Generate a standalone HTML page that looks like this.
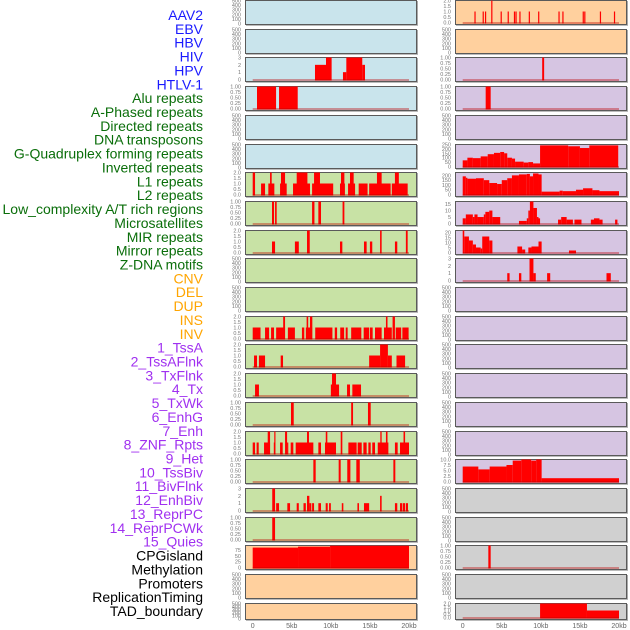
<!DOCTYPE html>
<html><head><meta charset="utf-8">
<style>
html,body{margin:0;padding:0;background:#fff;width:630px;height:630px;overflow:hidden}
svg text{font-family:"Liberation Sans",sans-serif}
</style></head>
<body>
<svg id="chart" width="630" height="630" viewBox="0 0 630 630" xmlns="http://www.w3.org/2000/svg"></svg>
<script>
// ---- data ----
const labels = ["AAV2","EBV","HBV","HIV","HPV","HTLV-1","Alu repeats","A-Phased repeats","Directed repeats","DNA transposons","G-Quadruplex forming repeats","Inverted repeats","L1 repeats","L2 repeats","Low_complexity A/T rich regions","Microsatellites","MIR repeats","Mirror repeats","Z-DNA motifs","CNV","DEL","DUP","INS","INV","1_TssA","2_TssAFlnk","3_TxFlnk","4_Tx","5_TxWk","6_EnhG","7_Enh","8_ZNF_Rpts","9_Het","10_TssBiv","11_BivFlnk","12_EnhBiv","13_ReprPC","14_ReprPCWk","15_Quies","CPGisland","Methylation","Promoters","ReplicationTiming","TAD_boundary"];
const labelColors = ["#1a1aff","#1a1aff","#1a1aff","#1a1aff","#1a1aff","#1a1aff","#0a6e0a","#0a6e0a","#0a6e0a","#0a6e0a","#0a6e0a","#0a6e0a","#0a6e0a","#0a6e0a","#0a6e0a","#0a6e0a","#0a6e0a","#0a6e0a","#0a6e0a","#ffa500","#ffa500","#ffa500","#ffa500","#ffa500","#a030f0","#a030f0","#a030f0","#a030f0","#a030f0","#a030f0","#a030f0","#a030f0","#a030f0","#a030f0","#a030f0","#a030f0","#a030f0","#a030f0","#a030f0","#000","#000","#000","#000","#000"];
const leftBg = ["blue","blue","blue","blue","blue","blue","green","green","green","green","green","green","green","green","green","green","green","green","green","orange","orange","orange"];
const rightBg = ["orange","orange","purple","purple","purple","purple","purple","purple","purple","purple","purple","purple","purple","purple","purple","purple","purple","gray","gray","gray","gray","gray"];
const xTickValues = [0,5000,10000,15000,20000];
const xTickLabels = ["0","5kb","10kb","15kb","20kb"];
const emptyTicks = [0,100,200,300,400,500];
const emptyTickLabels = ["0","100","200","300","400","500"];

// bars: [startKb, endKb, value]
const ebvBars = [[1.5,1.65,1],[2.55,2.7,1],[2.85,3.0,1],[3.65,3.8,2],[4.85,5.0,1],[5.75,5.9,1],[6.55,6.7,1],[6.75,6.9,1],[7.25,7.4,1],[8.45,8.6,1],[9.65,9.8,1],[12.25,12.4,1],[12.75,12.9,1],[15.35,15.5,1],[15.55,15.7,1],[17.55,17.7,1],[19.35,19.5,1]];
const hpvBars = [[7.97,9.38,2],[9.38,10.1,3],[11.55,11.98,1],[11.98,14.02,3],[14.02,14.37,2]];
const htlvBars = [[10.17,10.42,1]];
const aluBars = [[0.55,2.99,1],[3.37,5.76,1]];
const aphasedBars = [[2.94,3.58,1]];
const gquadBars = [[0,0.6,70],[0.6,1.3,100],[1.3,2.3,95],[2.3,3.2,115],[3.2,4,140],[4,4.8,155],[4.8,5.3,165],[5.3,5.7,150],[5.7,6.3,100],[6.3,6.7,90],[6.7,7.8,55],[7.8,8.4,45],[8.4,9,50],[9,9.9,35],[9.9,13.5,240],[13.5,15,230],[15,16.2,210],[16.2,19.9,240]];
const invertedBars = [[0,0.3,2],[1.07,1.58,1],[2.0,2.77,1],[2.22,2.43,2],[3.5,4.35,1],[3.62,4.14,2],[5.16,7.33,1],[5.63,7.0,2],[7.6,10.3,1],[7.85,8.61,2],[11.17,11.8,1],[11.3,11.73,2],[12.2,13.1,1],[12.45,12.92,2],[13.56,14.7,1],[14.9,17.65,1],[15.9,16.5,2],[17.8,19.83,1],[18.2,18.7,2]];
const l1Bars = [[0,0.4,190],[0.4,0.6,175],[0.6,1.7,165],[1.7,2.7,170],[2.7,3.4,150],[3.4,4.4,120],[4.4,5,110],[5,5.7,150],[5.7,6.3,170],[6.3,7.2,200],[7.2,8.2,210],[8.2,8.6,215],[8.6,9,190],[9,9.7,220],[9.7,10.1,210],[10.1,12.4,30],[12.4,12.8,40],[12.8,14.5,35],[14.5,15.4,50],[15.4,16.6,65],[16.6,17.5,45],[17.5,20,35]];
const lowcxBars = [[2.47,2.73,1],[2.86,3.07,1],[7.6,7.9,1],[8.4,8.74,1],[11.5,11.73,1]];
const l2Bars = [[0,0.4,4],[0.4,1.3,7],[1.3,1.5,5],[1.5,1.9,7],[1.9,2.7,5],[2.7,2.9,7],[2.9,3.4,9],[3.4,3.8,10],[3.8,4.8,5],[7.2,8.2,2],[8.2,8.4,4],[8.4,8.6,10],[8.6,9.05,17],[9.05,9.5,12],[9.5,9.7,5],[9.7,9.9,4],[12.2,12.6,3],[12.6,13.3,5],[13.3,14.1,3],[14.3,15.2,3],[16.4,16.8,3],[16.8,17.5,4],[17.5,17.9,3],[19.5,19.8,3]];
const mirBars = [[2.47,2.86,1],[5.4,5.9,1],[6.95,7.3,2],[11.17,11.47,1],[14.24,14.58,1],[15.0,15.3,1],[16.3,16.5,2],[18.2,18.5,1],[19.6,19.83,2]];
const microBars = [[0,0.2,22],[0.2,0.8,16],[0.8,1.3,12],[1.3,1.7,8],[1.7,2.3,5],[2.3,2.5,4],[2.5,3.4,16],[3.4,3.8,12],[7.0,7.6,6],[7.6,8.0,3],[8.4,8.8,5],[8.8,9.7,6],[9.7,10.1,11],[13.6,14.5,2]];
const zdnaBars = [[5.7,6.0,1],[7.2,7.5,1],[8.55,9.05,3],[9.05,9.35,1],[10.8,11.2,1],[18.4,18.95,1]];
const insBars = [[0,1.0,1],[1.58,2.1,1],[2.35,2.73,1],[3.0,4.14,1],[3.9,4.14,2],[4.5,5.4,1],[6.3,6.6,1],[6.8,7.6,1],[6.9,7.1,2],[7.33,7.63,2],[8.0,10.2,1],[10.5,10.8,1],[11.2,11.7,1],[11.9,12.15,1],[12.6,13.9,1],[14.2,14.9,1],[15.0,15.35,1],[15.65,16.5,1],[16.8,17.8,1],[17.05,17.25,2],[17.9,18.2,2],[18.3,19.0,1],[19.15,19.95,1]];
const tssaBars = [[0.17,0.55,1],[0.8,1.58,1],[3.58,3.88,1],[14.9,16.3,1],[16.3,17.3,2],[17.3,17.8,1],[18.4,19.5,1]];
const txflnkBars = [[0.3,0.8,1],[10.0,11.05,1],[10.15,10.66,2],[12.07,12.45,1],[12.75,13.86,1]];
const txwkBars = [[4.9,5.25,1],[12.6,12.84,1],[14.75,15.1,1]];
const enhBars = [[0,0.3,1],[0.5,0.77,1],[1.45,2.22,1],[1.92,2.22,2],[2.7,2.86,1],[2.76,2.86,2],[3.5,3.84,1],[4.14,4.4,2],[4.4,4.55,1],[4.86,5.2,1],[5.5,7.76,1],[6.95,7.2,2],[8.4,8.74,1],[9.25,10.66,1],[9.35,9.55,2],[11.26,11.47,2],[12.24,13.3,1],[13.43,13.95,1],[14.16,14.58,1],[14.8,15.1,1],[15.3,15.65,1],[16.0,17.36,1],[16.33,16.5,2],[17.05,17.25,2],[18.2,18.55,1],[18.85,20.0,1],[19.3,19.5,2]];
const hetBars = [[7.76,8.06,1],[11.0,11.26,1],[12.1,12.5,1],[13.26,13.7,1],[18.0,18.25,1]];
const tssbivBars = [[0,2.0,6.8],[2.0,3.45,5.5],[3.45,5.6,6.8],[5.6,6.4,7.5],[6.4,7.5,9.5],[7.5,8.76,10],[8.76,9.4,9.5],[9.4,10.1,10],[10.1,20,1.5]];
const bivflnkBars = [[2.5,2.86,3],[3.0,3.37,1],[4.43,4.78,1],[5.63,5.9,1],[6.5,6.8,1],[6.95,7.25,2],[7.25,7.5,1],[7.6,7.85,1],[8.4,8.74,1],[9.34,9.6,1],[9.77,10.0,1],[11.4,11.6,1],[13.4,13.6,1],[14.24,14.9,1],[16.3,16.5,2],[18.2,18.5,1],[18.85,19.15,1],[19.23,19.5,1],[19.6,19.87,1]];
const reprpcBars = [[2.5,2.86,1]];
const cpgBars = [[0,5.8,86],[5.8,9.9,90],[9.9,20,94]];
const methylBars = [[3.28,3.58,1]];
const tadBars = [[9.9,15.9,2],[15.9,20,1]];

const t2 = [0,0.5,1,1.5,2], t2L = ["0.0","0.5","1.0","1.5","2.0"];
const t1 = [0,0.25,0.5,0.75,1], t1L = ["0.00","0.25","0.50","0.75","1.00"];
const t3 = [0,1,2,3], t3L = ["0","1","2","3"];
// panel specs: [row, side(0 left,1 right), bars, yMax, ticks, tickLabels]
const panels = [
 [0,1,ebvBars,2,t2,t2L],
 [2,0,hpvBars,3,t3,t3L],
 [2,1,htlvBars,1,t1,t1L],
 [3,0,aluBars,1,t1,t1L],
 [3,1,aphasedBars,1,t1,t1L],
 [5,1,gquadBars,250,[0,50,100,150,200,250],["0","50","100","150","200","250"]],
 [6,0,invertedBars,2,t2,t2L],
 [6,1,l1Bars,230,[0,50,100,150,200],["0","50","100","150","200"]],
 [7,0,lowcxBars,1,t1,t1L],
 [7,1,l2Bars,17,[0,5,10,15],["0","5","10","15"]],
 [8,0,mirBars,2,t2,t2L],
 [8,1,microBars,22,[0,5,10,15,20],["0","5","10","15","20"]],
 [9,1,zdnaBars,3,t3,t3L],
 [11,0,insBars,2,t2,t2L],
 [12,0,tssaBars,2,t2,t2L],
 [13,0,txflnkBars,2,t2,t2L],
 [14,0,txwkBars,1,t1,t1L],
 [15,0,enhBars,2,t2,t2L],
 [16,0,hetBars,1,t1,t1L],
 [16,1,tssbivBars,10,[0,2.5,5,7.5,10],["0.0","2.5","5.0","7.5","10.0"]],
 [17,0,bivflnkBars,3,t3,t3L],
 [18,0,reprpcBars,1,t1,t1L],
 [19,0,cpgBars,95,[0,25,50,75],["0","25","50","75"]],
 [19,1,methylBars,1,t1,t1L],
 [21,1,tadBars,2,t2,t2L]
];

// ---- drawing ----
const NS = "http://www.w3.org/2000/svg";
const svg = document.getElementById('chart');
const bgColors = {blue:"#c9e4ec",green:"#c8e2a5",orange:"#ffd09e",purple:"#d6c5e2",gray:"#d0d0d0"};
const colX = [245, 455];
const panelW = 171;
function rowTop(r){ return Math.round(r*28.7); }
function rowH(r){ return r===21 ? 16 : 24; }
function xScale(side, kb){ return colX[side] + 7.7 + kb*7.815; }
function yScale(r, v, yMax){ const top=rowTop(r)+0.5, bot=rowTop(r)+rowH(r)-1.5; return bot - (v/yMax)*(bot-top); }
function mk(tag, attrs){ const e=document.createElementNS(NS,tag); for(const k in attrs) e.setAttribute(k,attrs[k]); svg.appendChild(e); return e; }

// labels
labels.forEach((t,i)=>{
  const e = mk('text',{x:203,y:15+i*13.86+5,'text-anchor':'end','font-size':'14',fill:labelColors[i]});
  e.textContent = t;
  
  
});

// panel backgrounds + empty ticks
const dataKeys = new Set(panels.map(p=>p[0]+'-'+p[1]));
for(let r=0;r<22;r++){
  for(let s=0;s<2;s++){
    const bg = (s===0?leftBg:rightBg)[r];
    const rect = mk('rect',{x:colX[s]+0.5,y:rowTop(r)+0.5,width:panelW,height:rowH(r),fill:bgColors[bg],stroke:"#5a5a5a",'stroke-width':1});
    
    
    mk('line',{x1:colX[s]+panelW+1.5,y1:rowTop(r)+1,x2:colX[s]+panelW+1.5,y2:rowTop(r)+rowH(r)+1,stroke:"#aaa",'stroke-width':1});
    mk('line',{x1:colX[s]+1,y1:rowTop(r)+rowH(r)+1.5,x2:colX[s]+panelW+2,y2:rowTop(r)+rowH(r)+1.5,stroke:"#bbb",'stroke-width':1});
    if(!dataKeys.has(r+'-'+s)){
      emptyTicks.forEach((v,k)=>{
        const y = rowTop(r)+rowH(r)-0.5 - v/500*(rowH(r)-1);
        const e = mk('text',{x:colX[s]-4,y:y+2,'text-anchor':'end','font-size':'5.5',fill:"#777"});
        e.textContent = emptyTickLabels[k];
        
        
      });
    }
  }
}

// data panels
panels.forEach(p=>{
  const [r,s,bars,yMax,ticks,tl] = p;
  const g = document.createElementNS(NS,'g'); svg.appendChild(g);
  
  
  bars.forEach(b=>{
    const x1 = xScale(s,b[0]), x2 = xScale(s,b[1]);
    const y0 = yScale(r,0,yMax), y1 = yScale(r,b[2],yMax);
    const e = document.createElementNS(NS,'rect');
    e.setAttribute('x', x1); e.setAttribute('y', y1);
    e.setAttribute('width', Math.max(1.2, x2-x1)); e.setAttribute('height', Math.max(0.5, y0-y1+1));
    e.setAttribute('fill', '#ff0000');
    
    
    g.appendChild(e);
  });
  const bl = mk('line',{x1:xScale(s,0),x2:xScale(s,20),y1:yScale(r,0,yMax)+0.5,y2:yScale(r,0,yMax)+0.5,stroke:"rgba(190,0,0,0.5)",'stroke-width':1.5});
  
  
  ticks.forEach((v,k)=>{
    const e = mk('text',{x:colX[s]-4,y:yScale(r,v,yMax)+2,'text-anchor':'end','font-size':'5.5',fill:"#777"});
    e.textContent = tl[k];
    
    
  });
});

// x axes
for(let s=0;s<2;s++){
  xTickValues.forEach((v,k)=>{
    const e = mk('text',{x:xScale(s,v/1000),y:628,'text-anchor':'middle','font-size':'7',fill:"#666"});
    e.textContent = xTickLabels[k];
    
    
  });
}
</script>
</body></html>
